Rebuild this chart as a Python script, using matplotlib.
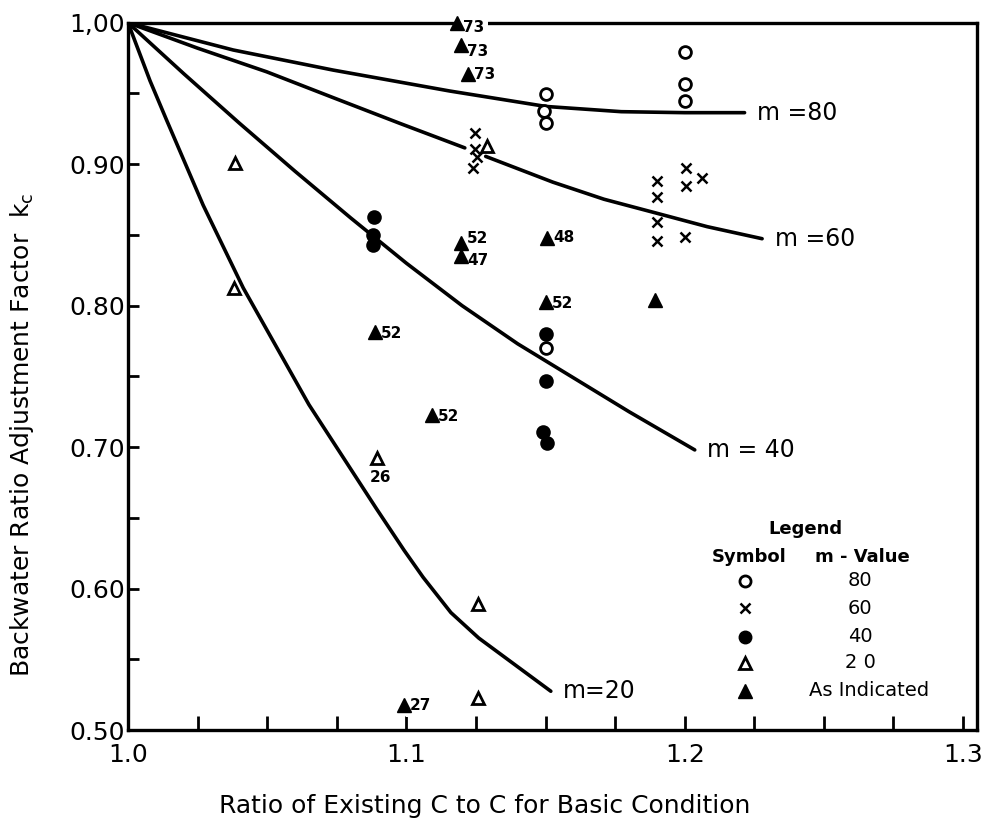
import matplotlib
matplotlib.use("Agg")
import matplotlib.pyplot as plt
import numpy as np
from matplotlib.ticker import MultipleLocator, FixedLocator, FixedFormatter

plt.rcParams['font.family'] = ['DejaVu Sans']

# ---- fitted curves, k_c versus C ratio, for four m-values ----
m80_x = [1.0, 1.0378, 1.0737, 1.1156, 1.1501, 1.1772, 1.2000, 1.2215]
m80_y = [1.0, 0.9807, 0.9665, 0.9517, 0.9408, 0.9371, 0.9364, 0.9364]

m60_x = [1.0, 1.025, 1.0498, 1.0740, 1.0977, 1.1210, np.nan, 1.1285, 1.1526, 1.1710, 1.1896, 1.2081, 1.2278]
m60_y = [1.0, 0.982, 0.9653, 0.9468, 0.9288, 0.9115, np.nan, 0.9055, 0.8873, 0.8752, 0.8655, 0.8558, 0.8473]

m40_x = [1.0, 1.02, 1.04, 1.06, 1.08, 1.10, 1.12, 1.14, 1.16, 1.18, 1.2036]
m40_y = [1.0, 0.964, 0.929, 0.895, 0.862, 0.830, 0.800, 0.773, 0.749, 0.725, 0.698]

m20_x = [1.0, 1.0079, 1.0139, 1.0270, 1.0414, 1.0650, 1.0893, 1.0992, 1.1060, 1.1160, 1.1260, 1.1519]
m20_y = [1.0, 0.959, 0.931, 0.871, 0.8125, 0.730, 0.6563, 0.627, 0.608, 0.583, 0.565, 0.5274]

curve_names = ["m =80", "m =60", "m = 40", "m=20"]

# ---- observed points ----
obs80_x = [1.150, 1.1495, 1.150, 1.200, 1.200, 1.200, 1.150]
obs80_y = [0.9493, 0.9379, 0.9291, 0.9796, 0.9566, 0.9449, 0.770]

obs60_x = [1.1246, 1.1246, 1.1255, 1.1240, 1.190, 1.190, 1.190, 1.190, 1.2004, 1.2004, 1.2061, 1.2000]
obs60_y = [0.922, 0.911, 0.905, 0.897, 0.888, 0.877, 0.859, 0.846, 0.8972, 0.8849, 0.8902, 0.8485]

obs40_x = [1.0883, 1.0880, 1.0880, 1.150, 1.150, 1.149, 1.1505]
obs40_y = [0.8623, 0.8498, 0.8427, 0.780, 0.747, 0.7106, 0.7027]

obs20_x = [1.0384, 1.0382, 1.0893, 1.1288, 1.1256, 1.1256]
obs20_y = [0.9005, 0.8125, 0.692, 0.9127, 0.5893, 0.5226]
obs20_note = ["", "", "26", "", "", ""]

# points whose m-value is written beside them
ind_x = [1.1181, 1.1198, 1.1222, 1.1195, 1.1198, 1.1506, 1.1500, 1.0887, 1.1092, 1.0992, 1.1895]
ind_y = [1.000, 0.984, 0.964, 0.844, 0.835, 0.848, 0.8026, 0.781, 0.7224, 0.5174, 0.8037]
ind_m = ["73", "73", "73", "52", "47", "48", "52", "52", "52", "27", ""]

# legend table
legend_values = ["80", "60", "40", "2 0", "As Indicated"]

# ---- figure ----
W, H = 988, 832
fig = plt.figure(figsize=(W / 100, H / 100), dpi=100)
ax = fig.add_axes([128 / W, 1 - 730 / H, (977 - 128) / W, (730 - 22.7) / H])
ax.set_xlim(1.0, 1.305)
ax.set_ylim(0.50, 1.00)

for s in ax.spines.values():
    s.set_linewidth(2.4)
    s.set_color("black")

ax.xaxis.set_major_locator(FixedLocator([1.0, 1.1, 1.2, 1.3]))
ax.xaxis.set_major_formatter(FixedFormatter(["1.0", "1.1", "1.2", "1.3"]))
ax.xaxis.set_minor_locator(MultipleLocator(0.025))
ax.yaxis.set_major_locator(MultipleLocator(0.10))
ax.yaxis.set_major_formatter(plt.FuncFormatter(lambda v, p: f"{v:.2f}".replace("1.00", "1,00")))
ax.yaxis.set_minor_locator(MultipleLocator(0.05))
ax.tick_params(axis="both", which="both", direction="in", width=2.0, top=False, right=False)
ax.tick_params(axis="x", which="both", length=10, labelsize=18, pad=9)
ax.tick_params(axis="y", which="both", length=8, labelsize=18, pad=2)

# curves
lw = 2.6
for cx, cy in [(m80_x, m80_y), (m60_x, m60_y), (m40_x, m40_y), (m20_x, m20_y)]:
    ax.plot(cx, cy, color="black", lw=lw, solid_capstyle="round",
            solid_joinstyle="round", zorder=3)

ends = [(m80_x[-1], m80_y[-1]), (m60_x[-1], m60_y[-1]), (m40_x[-1], m40_y[-1]), (m20_x[-1], m20_y[-1])]
for (ex, ey), name in zip(ends, curve_names):
    ax.annotate(name, (ex, ey), xytext=(9, 0), textcoords="offset points",
                ha="left", va="center", fontsize=17)

# observations
mk = dict(linestyle="none", clip_on=False, zorder=5)
ax.plot(obs80_x, obs80_y, marker="o", ms=8.5, mfc="white", mec="black", mew=2.0, **mk)
ax.plot(obs60_x, obs60_y, marker="x", ms=7, mec="black", mew=1.8, **mk)
ax.plot(obs40_x, obs40_y, marker="o", ms=9, mfc="black", mec="black", mew=1.5, **mk)
ax.plot(obs20_x, obs20_y, marker="^", ms=8.5, mfc="white", mec="black", mew=2.0, **mk)
ax.plot(ind_x, ind_y, marker="^", ms=10, mfc="black", mec="black", mew=1.0, **mk)

px = 0.72  # one pixel in points
ind_off = [(6, -5), (6, -6), (6, -1), (6, 5), (6, -4), (6, 0), (6, -2), (6, -1), (6, -1), (6, 0), (0, 0)]
for x, y, m, (dx, dy) in zip(ind_x, ind_y, ind_m, ind_off):
    if m:
        ax.annotate(m, (x, y), xytext=(dx * px, dy * px), textcoords="offset points",
                    ha="left", va="center", fontsize=11, fontweight="bold", zorder=4,
                    bbox=dict(boxstyle="square,pad=0.25", fc="white", ec="none"))
for x, y, m in zip(obs20_x, obs20_y, obs20_note):
    if m:
        ax.annotate(m, (x, y), xytext=(4 * px, -19 * px), textcoords="offset points",
                    ha="center", va="center", fontsize=11, fontweight="bold")

# legend table
def fx(p):
    return p / W

def fy(p):
    return 1 - p / H

fig.text(fx(805), fy(529), "Legend", ha="center", va="center", fontsize=13, fontweight="bold")
fig.text(fx(749), fy(557), "Symbol", ha="center", va="center", fontsize=13, fontweight="bold")
fig.text(fx(862), fy(557), "m - Value", ha="center", va="center", fontsize=13, fontweight="bold")
sym_styles = [dict(marker="o", ms=8, mfc="white", mec="black", mew=2.0),
              dict(marker="x", ms=6.5, mec="black", mew=1.8),
              dict(marker="o", ms=9, mfc="black", mec="black"),
              dict(marker="^", ms=8, mfc="white", mec="black", mew=2.0),
              dict(marker="^", ms=10, mfc="black", mec="black")]
rows_y = [581, 608, 637, 663, 691]
for ry, val, st in zip(rows_y, legend_values, sym_styles):
    fig.lines.append(plt.Line2D([fx(745)], [fy(ry)], transform=fig.transFigure,
                                linestyle="none", **st))
    fig.text(fx(869 if val == "As Indicated" else 860), fy(ry), val, ha="center", va="center", fontsize=14)

# axis titles
fig.text(fx(22), fy(435), "Backwater Ratio Adjustment Factor  k$_\\mathregular{c}$",
         rotation=90, ha="center", va="center", fontsize=18)
fig.text(fx(485), fy(806), "Ratio of Existing C to C for Basic Condition",
         ha="center", va="center", fontsize=18)

fig.savefig("out.png", dpi=100)
